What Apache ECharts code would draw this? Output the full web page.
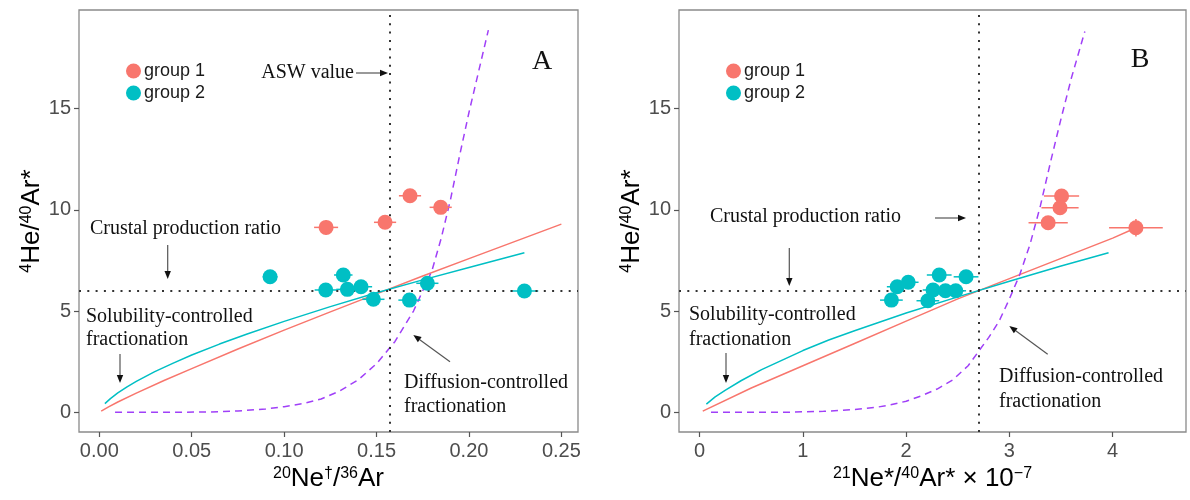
<!DOCTYPE html>
<html><head><meta charset="utf-8">
<script src="https://cdn.jsdelivr.net/npm/echarts@6/dist/echarts.min.js"></script>
<style>html,body{margin:0;padding:0;background:#fff}#c{width:1190px;height:500px}</style>
</head><body><div id="c"></div><script>
// ---------- DATA ----------
// Panel A: 20Ne/36Ar vs 4He/40Ar*
const g1A_x = [0.1227, 0.1546, 0.1681, 0.1847];
const g1A_y = [9.13, 9.38, 10.69, 10.12];
const g1A_xerr = [0.0065, 0.006, 0.006, 0.006];
const g1A_yerr = [0.35, 0.3, 0.3, 0.3];
const g2A_x = [0.0924, 0.1225, 0.1320, 0.1342, 0.1416, 0.1483, 0.1678, 0.1775, 0.2300];
const g2A_y = [6.69, 6.04, 6.78, 6.07, 6.20, 5.58, 5.54, 6.37, 5.99];
const g2A_xerr = [0.004, 0.006, 0.005, 0.006, 0.006, 0.006, 0.006, 0.006, 0.0075];
// model curves, panel A
const redA_x = [0.001, 0.005, 0.01, 0.02, 0.035, 0.05, 0.075, 0.1, 0.125, 0.15, 0.175, 0.2, 0.225, 0.25];
const redA_y = [0.06, 0.27, 0.51, 0.95, 1.57, 2.16, 3.13, 4.06, 4.96, 5.85, 6.73, 7.59, 8.44, 9.29];
const tealA_x = [0.003, 0.006, 0.01, 0.015, 0.02, 0.03, 0.04, 0.05, 0.065, 0.08, 0.1, 0.125, 0.15, 0.175, 0.2, 0.23];
const tealA_y = [0.43, 0.68, 0.96, 1.26, 1.53, 2.01, 2.43, 2.83, 3.37, 3.87, 4.49, 5.22, 5.90, 6.54, 7.15, 7.88];
const purA_x = [0.0085, 0.04, 0.06, 0.075, 0.09, 0.1, 0.11, 0.12, 0.13, 0.14, 0.15, 0.16, 0.17, 0.175, 0.18, 0.185, 0.19, 0.195, 0.2, 0.2105];
const purA_y = [0, 0, 0.02, 0.07, 0.17, 0.28, 0.43, 0.66, 1.05, 1.6, 2.4, 3.5, 5.0, 6.0, 7.0, 8.6, 10.5, 12.7, 14.8, 18.87];
const aswA = 0.157;

// Panel B: 21Ne*/40Ar* (x1e-7) vs 4He/40Ar*
const g1B_x = [3.505, 3.49, 3.375, 4.225];
const g1B_y = [10.68, 10.10, 9.36, 9.11];
const g1B_xerr = [0.17, 0.18, 0.19, 0.26];
const g1B_yerr = [0.2, 0.2, 0.2, 0.43];
const g2B_x = [1.857, 1.913, 2.02, 2.21, 2.26, 2.32, 2.38, 2.48, 2.58];
const g2B_y = [5.54, 6.20, 6.42, 5.51, 6.04, 6.78, 6.00, 6.00, 6.69];
const g2B_xerr = [0.11, 0.10, 0.10, 0.11, 0.10, 0.12, 0.10, 0.10, 0.12];
const redB_x = [0.03, 0.5, 1, 1.5, 2, 2.5, 3, 3.5, 4, 4.2];
const redB_y = [0.06, 1.2, 2.3, 3.4, 4.5, 5.6, 6.6, 7.6, 8.6, 9.05];
const tealB_x = [0.065, 0.15, 0.25, 0.4, 0.6, 0.8, 1, 1.25, 1.5, 2, 2.5, 3, 3.5, 3.96];
const tealB_y = [0.41, 0.76, 1.10, 1.56, 2.11, 2.58, 3.05, 3.57, 4.03, 4.90, 5.70, 6.47, 7.22, 7.88];
const purB_x = [0.11, 0.8, 1.2, 1.5, 1.7, 1.85, 2.0, 2.15, 2.3, 2.45, 2.6, 2.7, 2.8, 2.9, 3.0, 3.1, 3.2, 3.3, 3.4, 3.5, 3.6, 3.73];
const purB_y = [0, 0, 0.05, 0.14, 0.24, 0.37, 0.55, 0.82, 1.15, 1.6, 2.3, 3.0, 3.7, 4.5, 5.6, 6.8, 8.3, 10.2, 12.4, 14.5, 16.5, 18.8];
const aswB = 2.705;

const crustal = 6;
const yTicks = [0, 5, 10, 15];
const xTicksA = [0, 0.05, 0.10, 0.15, 0.20, 0.25];
const xTicksB = [0, 1, 2, 3, 4];
const groupNames = ['group 1', 'group 2'];

// ---------- STYLE ----------
const C1 = '#F8766D', C2 = '#00BFC4', CP = '#A040F8';
const SANS = 'Liberation Sans, Arial, sans-serif';
const SERIF = 'Liberation Serif, Times New Roman, serif';

const zip = (xs, ys) => xs.map((x, i) => [x, ys[i]]);
const zipErr = (xs, ys, xe, ye) => xs.map((x, i) => [x, ys[i], xe[i], ye ? ye[i] : 0]);

function errRender(color) {
  return function (params, api) {
    const x = api.value(0), y = api.value(1), xe = api.value(2), ye = api.value(3);
    const children = [];
    const a = api.coord([x - xe, y]), b = api.coord([x + xe, y]);
    children.push({type: 'line', shape: {x1: a[0], y1: a[1], x2: b[0], y2: b[1]}, style: {stroke: color, lineWidth: 1.5}});
    if (ye > 0) {
      const c = api.coord([x, y - ye]), d = api.coord([x, y + ye]);
      children.push({type: 'line', shape: {x1: c[0], y1: c[1], x2: d[0], y2: d[1]}, style: {stroke: color, lineWidth: 1.5}});
    }
    return {type: 'group', children};
  };
}

const supRich = {s: {fontSize: 16, verticalAlign: 'top', fontFamily: SANS, color: '#000', lineHeight: 16}};
const nameStyle = {fontFamily: SANS, fontSize: 26, color: '#000', rich: supRich};

function xAxisCfg(idx, min, max, ticks, fmt, name) {
  return {
    type: 'value', gridIndex: idx, min, max,
    axisLine: {show: false, onZero: false},
    axisTick: {show: true, length: 5, lineStyle: {color: '#555', width: 1.2}, customValues: ticks},
    axisLabel: {customValues: ticks, formatter: fmt, color: '#4D4D4D', fontFamily: SANS, fontSize: 20, margin: 9},
    splitLine: {show: false},
    name, nameLocation: 'middle', nameGap: 21, nameTextStyle: nameStyle
  };
}
function yAxisCfg(idx) {
  return {
    type: 'value', gridIndex: idx, min: -0.97, max: 19.86,
    axisLine: {show: false, onZero: false},
    axisTick: {show: true, length: 5, lineStyle: {color: '#555', width: 1.2}, customValues: yTicks},
    axisLabel: {customValues: yTicks, color: '#4D4D4D', fontFamily: SANS, fontSize: 20, margin: 8},
    splitLine: {show: false},
    name: '{s|4}He/{s|40}Ar*', nameLocation: 'middle', nameGap: 31, nameTextStyle: nameStyle
  };
}

function lineSeries(xi, xs, ys, color, dashed) {
  return {
    type: 'line', xAxisIndex: xi, yAxisIndex: xi, data: zip(xs, ys), showSymbol: false, silent: true,
    smooth: false, z: 3,
    lineStyle: {color, width: 1.5, type: dashed ? [7, 5] : 'solid'}
  };
}
function refLines(xi, asw) {
  return {
    type: 'line', xAxisIndex: xi, yAxisIndex: xi, data: [], silent: true, z: 2,
    markLine: {
      silent: true, symbol: 'none', animation: false, precision: 6,
      lineStyle: {color: '#333', width: 2, type: [2, 6.3]},
      label: {show: false},
      data: [{yAxis: crustal}, {xAxis: asw}]
    }
  };
}

const series = [
  refLines(0, aswA), refLines(1, aswB),
  lineSeries(0, redA_x, redA_y, C1), lineSeries(0, tealA_x, tealA_y, C2), lineSeries(0, purA_x, purA_y, CP, true),
  lineSeries(1, redB_x, redB_y, C1), lineSeries(1, tealB_x, tealB_y, C2), lineSeries(1, purB_x, purB_y, CP, true),
  {type: 'custom', xAxisIndex: 0, yAxisIndex: 0, renderItem: errRender(C1), data: zipErr(g1A_x, g1A_y, g1A_xerr, g1A_yerr), encode: {x: 0, y: 1}, z: 4, silent: true},
  {type: 'custom', xAxisIndex: 0, yAxisIndex: 0, renderItem: errRender(C2), data: zipErr(g2A_x, g2A_y, g2A_xerr), encode: {x: 0, y: 1}, z: 4, silent: true},
  {type: 'custom', xAxisIndex: 1, yAxisIndex: 1, renderItem: errRender(C1), data: zipErr(g1B_x, g1B_y, g1B_xerr, g1B_yerr), encode: {x: 0, y: 1}, z: 4, silent: true},
  {type: 'custom', xAxisIndex: 1, yAxisIndex: 1, renderItem: errRender(C2), data: zipErr(g2B_x, g2B_y, g2B_xerr), encode: {x: 0, y: 1}, z: 4, silent: true},
  {name: groupNames[0], type: 'scatter', xAxisIndex: 0, yAxisIndex: 0, data: zip(g1A_x, g1A_y), symbolSize: 15, itemStyle: {color: C1, opacity: 1}, z: 5},
  {name: groupNames[1], type: 'scatter', xAxisIndex: 0, yAxisIndex: 0, data: zip(g2A_x, g2A_y), symbolSize: 15, itemStyle: {color: C2, opacity: 1}, z: 5},
  {name: groupNames[0], type: 'scatter', xAxisIndex: 1, yAxisIndex: 1, data: zip(g1B_x, g1B_y), symbolSize: 15, itemStyle: {color: C1, opacity: 1}, z: 5},
  {name: groupNames[1], type: 'scatter', xAxisIndex: 1, yAxisIndex: 1, data: zip(g2B_x, g2B_y), symbolSize: 15, itemStyle: {color: C2, opacity: 1}, z: 5}
];

// ---------- ANNOTATIONS ----------
function txt(x, y, text, opts) {
  return Object.assign({type: 'text', x, y, silent: true, z: 100,
    style: Object.assign({text, font: '20px ' + SERIF, fill: '#111', verticalAlign: 'middle', align: 'left'}, opts || {})});
}
function arrow(x1, y1, x2, y2) {
  const ang = Math.atan2(y2 - y1, x2 - x1), L = 8, W = 3.2;
  const bx = x2 - L * Math.cos(ang), by = y2 - L * Math.sin(ang);
  const px = -Math.sin(ang) * W, py = Math.cos(ang) * W;
  return [
    {type: 'line', silent: true, z: 100, shape: {x1, y1, x2: bx, y2: by}, style: {stroke: '#555', lineWidth: 1.2}},
    {type: 'polygon', silent: true, z: 100, shape: {points: [[x2, y2], [bx + px, by + py], [bx - px, by - py]]}, style: {fill: '#111'}}
  ];
}
const graphic = [
  txt(354, 73, 'ASW value', {align: 'right'}),
  ...arrow(356, 73, 388, 73),
  txt(90, 229, 'Crustal production ratio'),
  ...arrow(167.7, 245, 167.7, 279),
  txt(86, 317, 'Solubility-controlled'),
  txt(86, 340, 'fractionation'),
  ...arrow(120, 354, 120, 383),
  txt(404, 383, 'Diffusion-controlled'),
  txt(404, 407, 'fractionation'),
  ...arrow(450, 361.7, 413.3, 335),
  txt(542, 62, 'A', {font: '28px ' + SERIF, align: 'center'}),

  txt(710, 217, 'Crustal production ratio'),
  ...arrow(935, 218, 966, 218),
  ...arrow(789.3, 248, 789.3, 286),
  txt(689, 315, 'Solubility-controlled'),
  txt(689, 340, 'fractionation'),
  ...arrow(726, 353, 726, 383),
  txt(999, 377, 'Diffusion-controlled'),
  txt(999, 402, 'fractionation'),
  ...arrow(1047.7, 354.3, 1009.3, 326),
  txt(1140, 60, 'B', {font: '28px ' + SERIF, align: 'center'})
];

const legendCfg = (left) => ({
  left, top: 62, padding: 0, orient: 'vertical', data: groupNames, icon: 'circle', selectedMode: false,
  itemWidth: 15, itemHeight: 15, itemGap: 4,
  textStyle: {fontFamily: SANS, fontSize: 18, color: '#1a1a1a', padding: [0, 0, 0, -2]}
});

const option = {
  animation: false,
  backgroundColor: '#fff',
  grid: [
    {left: 79, top: 10, width: 499, height: 422, show: true, borderColor: '#8a8a8a', borderWidth: 1.3, backgroundColor: 'transparent'},
    {left: 679, top: 10, width: 507, height: 422, show: true, borderColor: '#8a8a8a', borderWidth: 1.3, backgroundColor: 'transparent'}
  ],
  xAxis: [
    xAxisCfg(0, -0.011, 0.259, xTicksA, v => v.toFixed(2), '{s|20}Ne{s|†}/{s|36}Ar'),
    xAxisCfg(1, -0.2, 4.71, xTicksB, v => String(v), '{s|21}Ne*/{s|40}Ar* × 10{s|−7}')
  ],
  yAxis: [yAxisCfg(0), yAxisCfg(1)],
  legend: [legendCfg(126), legendCfg(726)],
  series,
  graphic
};
const chart = echarts.init(document.getElementById('c'), null, {renderer: 'canvas'});
chart.setOption(option);
</script></body></html>
